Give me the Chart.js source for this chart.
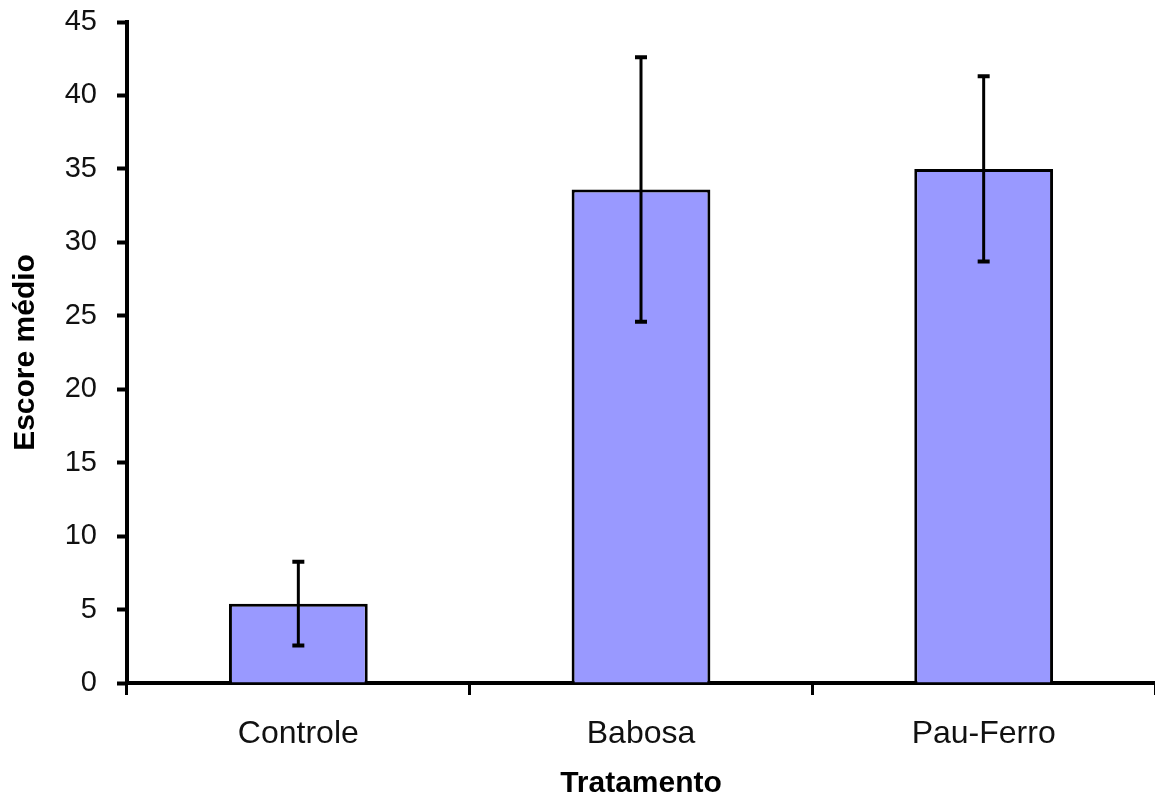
<!DOCTYPE html>
<html>
<head>
<meta charset="utf-8">
<script src="https://cdn.jsdelivr.net/npm/chart.js@4/dist/chart.umd.min.js"></script>
<style>
  html, body { margin: 0; padding: 0; background: #fff; }
  #wrap { width: 1155px; height: 803px; }
</style>
</head>
<body>
<div id="wrap"><canvas id="chart"></canvas></div>
<script>
const categories = ["Controle", "Babosa", "Pau-Ferro"];
const means = [5.4, 33.6, 35.0];
const errors = [2.85, 9.0, 6.3];

// error bars drawn through the chart's own scales
const errorBars = {
  id: 'errorBars',
  afterDatasetsDraw(chart) {
    const ctx = chart.ctx;
    const meta = chart.getDatasetMeta(0);
    const yScale = chart.scales.y;
    ctx.save();
    ctx.strokeStyle = '#000';
    meta.data.forEach((bar, i) => {
      const x = bar.x;
      const yTop = yScale.getPixelForValue(means[i] + errors[i]);
      const yBot = yScale.getPixelForValue(means[i] - errors[i]);
      ctx.lineWidth = 3;
      ctx.beginPath();
      ctx.moveTo(x, yTop);
      ctx.lineTo(x, yBot);
      ctx.stroke();
      ctx.lineWidth = 4;
      ctx.beginPath();
      ctx.moveTo(x - 6, yTop);
      ctx.lineTo(x + 6, yTop);
      ctx.moveTo(x - 6, yBot);
      ctx.lineTo(x + 6, yBot);
      ctx.stroke();
    });
    ctx.restore();
  }
};

new Chart(document.getElementById('chart').getContext('2d'), {
  type: 'bar',
  data: {
    labels: categories,
    datasets: [{
      data: means,
      backgroundColor: '#9999FF',
      borderColor: '#000',
      borderWidth: 3,
      barPercentage: 0.405,
      categoryPercentage: 1.0
    }]
  },
  options: {
    responsive: true,
    maintainAspectRatio: false,
    animation: false,
    layout: { padding: { top: 22, right: 0, bottom: 0, left: 0 } },
    plugins: {
      legend: { display: false },
      tooltip: { enabled: false }
    },
    scales: {
      x: {
        afterFit(scale) { scale.height = 120; },
        grid: {
          offset: true,
          drawOnChartArea: false,
          tickLength: 12,
          tickWidth: 3,
          tickColor: '#000'
        },
        border: { color: '#000', width: 4 },
        ticks: {
          color: '#111',
          padding: 20,
          font: { family: 'Liberation Sans, Arial', size: 32 }
        },
        title: {
          display: true,
          text: 'Tratamento',
          color: '#000',
          padding: { top: 1, bottom: 1 },
          font: { family: 'Liberation Sans, Arial', size: 30, weight: 'bold' }
        }
      },
      y: {
        min: 0,
        max: 45,
        afterFit(scale) {
          scale.width = 127;
          scale.paddingTop = 0;
          scale.paddingBottom = 0;
        },
        grid: {
          drawOnChartArea: false,
          tickLength: 10,
          tickWidth: 4,
          tickColor: '#000'
        },
        border: { color: '#000', width: 4 },
        ticks: {
          stepSize: 5,
          color: '#111',
          padding: 20,
          font: { family: 'Liberation Sans, Arial', size: 29 }
        },
        title: {
          display: true,
          text: 'Escore médio',
          color: '#000',
          padding: { top: 8, bottom: 8 },
          font: { family: 'Liberation Sans, Arial', size: 30, weight: 'bold' }
        }
      }
    }
  },
  plugins: [errorBars]
});
</script>
</body>
</html>
